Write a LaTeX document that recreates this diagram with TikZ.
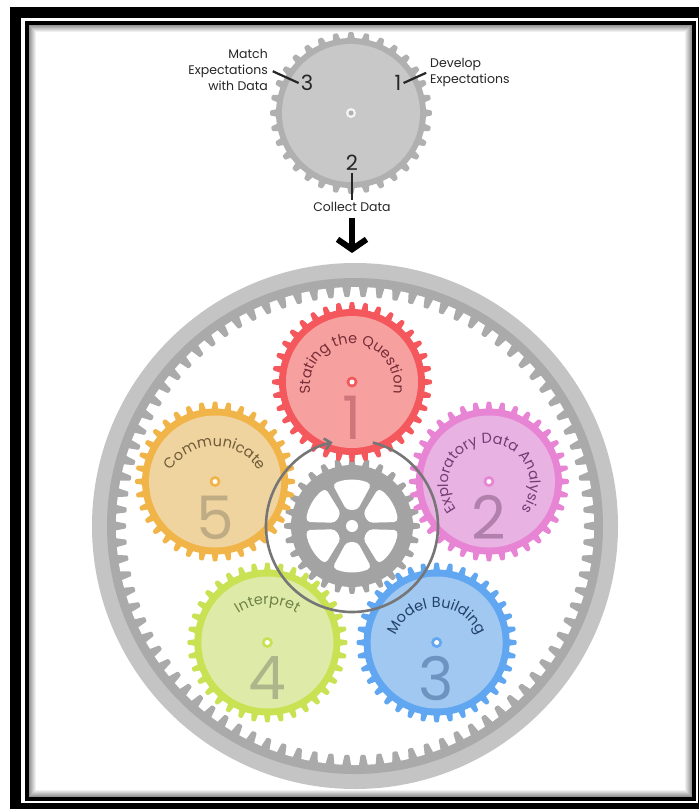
\documentclass[tikz,border=0pt]{standalone}
\usepackage{fontspec}
\setmainfont{Poppins}
\usetikzlibrary{arrows.meta, calc, decorations.text}

\definecolor{ringL}{RGB}{196,196,196}
\definecolor{ringD}{RGB}{170,170,170}
\definecolor{hubG}{RGB}{163,163,163}
\definecolor{loopG}{RGB}{118,118,118}
\definecolor{topT}{RGB}{176,176,176}
\definecolor{topB}{RGB}{200,200,200}
\definecolor{redT}{RGB}{244,88,92}
\definecolor{redB}{RGB}{246,160,160}
\definecolor{redX}{RGB}{120,45,55}
\definecolor{redN}{RGB}{206,118,122}
\definecolor{pinkT}{RGB}{232,132,212}
\definecolor{pinkB}{RGB}{232,178,226}
\definecolor{pinkX}{RGB}{115,60,115}
\definecolor{pinkN}{RGB}{178,128,172}
\definecolor{blueT}{RGB}{96,166,240}
\definecolor{blueB}{RGB}{160,200,240}
\definecolor{blueX}{RGB}{35,65,105}
\definecolor{blueN}{RGB}{108,148,192}
\definecolor{greenT}{RGB}{200,226,84}
\definecolor{greenB}{RGB}{222,234,168}
\definecolor{greenX}{RGB}{110,130,70}
\definecolor{greenN}{RGB}{172,182,138}
\definecolor{orangeT}{RGB}{240,180,72}
\definecolor{orangeB}{RGB}{240,212,160}
\definecolor{orangeX}{RGB}{110,90,55}
\definecolor{orangeN}{RGB}{192,172,132}

\begin{document}
\begin{tikzpicture}[
    x=1pt, y=1pt,
    pics/gear/.style n args={4}{code={
        \foreach \k in {1,...,#1}{
            \pgfmathsetmacro{\gang}{360/#1*\k}
            \pgfmathsetmacro{\gwa}{0.27*360/#1}
            \pgfmathsetmacro{\gwb}{0.15*360/#1}
            \fill[#4, rounded corners=1pt]
                (\gang-\gwa:#2) -- (\gang-\gwb:#3) -- (\gang+\gwb:#3) -- (\gang+\gwa:#2) -- cycle;
        }
    }},
    arclabel/.style={decorate, decoration={text along path, text align=center}},
    bignum/.style={font=\fontsize{60}{60}\selectfont, inner sep=0pt},
    toplbl/.style={font=\fontsize{12.5}{16}\selectfont, text=black!85, inner sep=2pt},
    topnum/.style={font=\fontsize{21}{21}\selectfont, text=black!85, inner sep=2pt},
    tick/.style={line width=2.2, black!85},
    bigarrow/.style={-{Straight Barb[length=10pt, width=29pt]}, line width=6},
    looparrow/.style={-{Straight Barb[length=6pt, width=11pt]}, line width=2.6, loopG}
]

% =================== PAGE AND FRAME ===================
\fill[white] (0,0) rectangle (699,-809);
\useasboundingbox (0,0) rectangle (699,-809);
\begin{scope}
    \clip (0,0) rectangle (699,-809);
    \draw[line width=11] (15.5,-12.5) rectangle (703.5,-808.5);
\end{scope}
\draw[line width=4] (27,-23) rectangle (693.5,-798.5);
\foreach \k in {1,...,8}{
    \pgfmathsetmacro{\sh}{48-6*\k}
    \draw[black!\sh, line width=1.1] (28.5+\k,-24.5-\k) rectangle (692.5-\k,-797.5+\k);
}

% =================== TOP GEAR ===================
\coordinate (tg) at (351,-113);
\fill[topT] (tg) circle[radius=75];
\pic at (tg) {gear={32}{74}{81}{topT}};
\fill[topB] (tg) circle[radius=69];
\fill[white!80!topB] (tg) circle[radius=5];
\fill[topT] (tg) circle[radius=2.5];

\node[topnum] (n3) at (307,-83) {3};
\node[topnum] (n1) at (398,-83) {1};
\node[topnum] (n2) at (352,-163) {2};

\node[toplbl, align=right, anchor=east] (match) at (270,-70) {Match\\Expectations\\with Data};
\node[toplbl, align=left, anchor=west] (develop) at (428,-72) {Develop\\Expectations};
\node[toplbl] (collect) at (352,-207) {Collect Data};

\draw[tick, shorten <=3pt] (match.east) -- (n3.west);
\draw[tick, shorten >=2pt] (n1.east) -- (develop.west);
\draw[tick] (n2.south) -- (collect.north);

% =================== OUTER RING ===================
\coordinate (ringc) at (355,-526);
\coordinate (ringtop) at ($(ringc)+(90:263)$);
\fill[ringL] (ringc) circle[radius=263];
\fill[ringD] (ringc) circle[radius=248];
\fill[white] (ringc) circle[radius=239];
\pic at (ringc) {gear={90}{240}{229}{ringD}};

\draw[bigarrow, shorten <=4pt, shorten >=10pt] (collect.south) -- (collect.south |- ringtop);

% =================== CENTRE GEAR ===================
\coordinate (hub) at (352,-526);
\fill[hubG] (hub) circle[radius=61];
\pic at (hub) {gear={28}{60}{68}{hubG}};
\foreach \a in {30,90,...,330}
    \fill[white, rounded corners=4] ($(hub)+(\a-19:17)$) -- ($(hub)+(\a-25:46)$)
        arc[start angle=\a-25, end angle=\a+25, radius=46] -- ($(hub)+(\a+19:17)$) -- cycle;
\fill[white] (hub) circle[radius=6];

% =================== GEAR 1: STATING THE QUESTION ===================
\coordinate (g1) at ($(hub)+(90:144)$);
\fill[redT] (g1) circle[radius=73];
\pic at (g1) {gear={36}{72}{80}{redT}};
\fill[redB] (g1) circle[radius=66];
\fill[redT] (g1) circle[radius=5.5];
\fill[white] (g1) circle[radius=2.5];
\path[arclabel, decoration={text={|\fontsize{14.5}{14.5}\selectfont\color{redX}|Stating the Question}}]
    ($(g1)+(0,-4)$) ++(210:42) arc[start angle=210, end angle=-30, radius=42];
\node[bignum, text=redN] (num1) at ($(g1)+(0,-36)$) {1};

% =================== GEAR 2: EXPLORATORY DATA ANALYSIS ===================
\coordinate (g2) at ($(hub)+(18:144)$);
\fill[pinkT] (g2) circle[radius=73];
\pic at (g2) {gear={36}{72}{80}{pinkT}};
\fill[pinkB] (g2) circle[radius=66];
\fill[pinkT] (g2) circle[radius=5.5];
\fill[white] (g2) circle[radius=2.5];
\path[arclabel, decoration={text={|\fontsize{14.5}{14.5}\selectfont\color{pinkX}|Exploratory Data Analysis}}]
    ($(g2)+(0,-3)$) ++(240:41) arc[start angle=240, end angle=-60, radius=41];
\node[bignum, text=pinkN] (num2) at ($(g2)+(0,-36)$) {2};

% =================== GEAR 3: MODEL BUILDING ===================
\coordinate (g3) at ($(hub)+(-54:144)$);
\fill[blueT] (g3) circle[radius=73];
\pic at (g3) {gear={36}{72}{80}{blueT}};
\fill[blueB] (g3) circle[radius=66];
\fill[blueT] (g3) circle[radius=5.5];
\fill[white] (g3) circle[radius=2.5];
\path[arclabel, decoration={text={|\fontsize{14.5}{14.5}\selectfont\color{blueX}|Model Building}}]
    ($(g3)+(0,-9)$) ++(200:44) arc[start angle=200, end angle=-20, radius=44];
\node[bignum, text=blueN] (num3) at ($(g3)+(0,-36)$) {3};

% =================== GEAR 4: INTERPRET ===================
\coordinate (g4) at ($(hub)+(234:144)$);
\fill[greenT] (g4) circle[radius=73];
\pic at (g4) {gear={36}{72}{80}{greenT}};
\fill[greenB] (g4) circle[radius=66];
\fill[greenT] (g4) circle[radius=5.5];
\fill[white] (g4) circle[radius=2.5];
\path[arclabel, decoration={text={|\fontsize{14.5}{14.5}\selectfont\color{greenX}|Interpret}}]
    ($(g4)+(0,-16)$) ++(180:54) arc[start angle=180, end angle=0, radius=54];
\node[bignum, text=greenN] (num4) at ($(g4)+(0,-36)$) {4};

% =================== GEAR 5: COMMUNICATE ===================
\coordinate (g5) at ($(hub)+(162:144)$);
\fill[orangeT] (g5) circle[radius=73];
\pic at (g5) {gear={36}{72}{80}{orangeT}};
\fill[orangeB] (g5) circle[radius=66];
\fill[orangeT] (g5) circle[radius=5.5];
\fill[white] (g5) circle[radius=2.5];
\path[arclabel, decoration={text={|\fontsize{14.5}{14.5}\selectfont\color{orangeX}|Communicate}}]
    ($(g5)+(0,-17)$) ++(190:52) arc[start angle=190, end angle=-10, radius=52];
\node[bignum, text=orangeN] (num5) at ($(g5)+(0,-36)$) {5};

% =================== CYCLE ARROW ===================
\coordinate (loopS) at ($(hub)+(76:86)$);
\draw[looparrow] (loopS) arc[start angle=76, end angle=-257, radius=86];

\end{tikzpicture}
\end{document}
